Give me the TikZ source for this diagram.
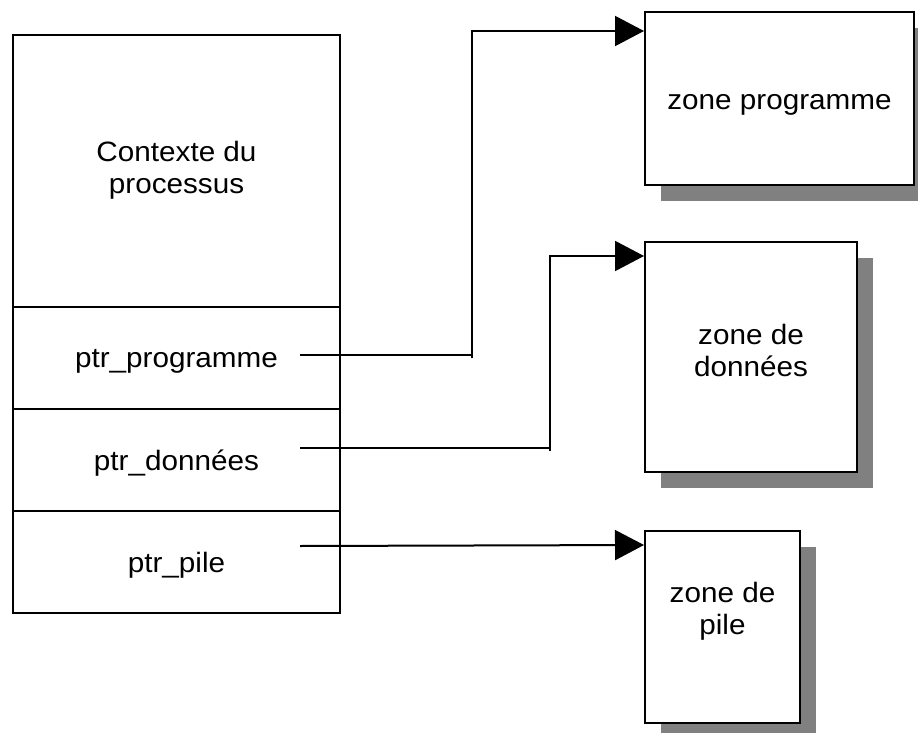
\documentclass[tikz,border=0pt]{standalone}
\usepackage{fontspec}
\setmainfont[FakeStretch=1.06]{Liberation Sans}
\usetikzlibrary{arrows.meta,calc,shadows}
\begin{document}
\begin{tikzpicture}[x=1pt,y=-1pt,
  cell/.style={draw,line width=2.8pt,minimum width=327pt,inner sep=0pt},
  zone/.style={draw,line width=2pt,fill=white,inner sep=0pt,
    drop shadow={shadow xshift=16pt,shadow yshift=-16pt,fill=black!50,opacity=1}},
  lbl/.style={font=\fontsize{28}{32}\selectfont,align=center,inner sep=0pt},
  link/.style={line width=2pt},
  tip/.style={-{Triangle[length=29pt,width=30pt]}}
]
\useasboundingbox (0,0) rectangle (918,733);

% process context table
\node[cell,minimum height=272pt] (ctx)   at (176.5,171) {};
\node[cell,minimum height=102pt] (pprog) at (176.5,358) {};
\node[cell,minimum height=102pt] (pdon)  at (176.5,460) {};
\node[cell,minimum height=102pt] (ppile) at (176.5,562) {};
\node[lbl] (tctx)   at ($(ctx.center)+(0,-1)$)  {Contexte du\\processus};
\node[lbl] (tpprog) at ($(pprog.center)+(0,3)$) {ptr\_programme};
\node[lbl] (tpdon)  at ($(pdon.center)+(0,3)$)  {ptr\_données};
\node[lbl] (tppile) at ($(ppile.center)+(0,3)$) {ptr\_pile};

% memory zones
\node[zone,minimum width=269pt,minimum height=173pt] (zprog) at (779.5,98.5) {};
\node[zone,minimum width=212pt,minimum height=230pt] (zdon)  at (751,357) {};
\node[zone,minimum width=155pt,minimum height=192pt] (zpile) at (722.5,627) {};
\node[lbl] (tprog) at (779.5,105) {zone programme};
\node[lbl] (tdon)  at (751,350) {zone de\\données};
\node[lbl] (tpile) at (722.5,611) {zone de\\pile};

% pointer connectors
\coordinate (s1) at (300,355);
\coordinate (k1) at (472,355);
\coordinate (e1) at ($(zprog.north west)+(0,20)$);
\coordinate (s2) at (300,448);
\coordinate (k2) at (550,448);
\coordinate (e2) at ($(zdon.north west)+(0,15)$);
\coordinate (s3) at (300,546);
\coordinate (e3) at ($(zpile.north west)+(0,15)$);

\draw[link] (s1) -- (k1);
\draw[link,tip] ($(k1)+(0,3)$) |- (e1);
\draw[link] (s2) -- (k2);
\draw[link,tip] ($(k2)+(0,3)$) |- (e2);
\draw[link,tip] (s3) -- (e3);
\end{tikzpicture}
\end{document}
